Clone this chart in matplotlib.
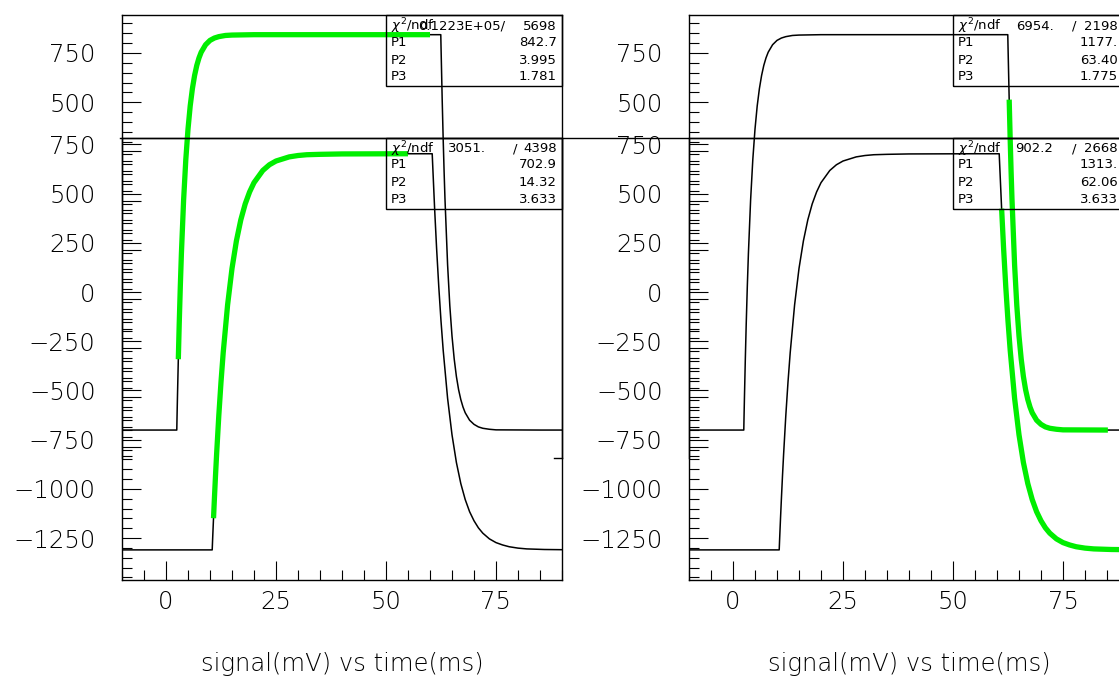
import numpy as np
import matplotlib
matplotlib.use("Agg")
from matplotlib import pyplot as plt
from matplotlib.patches import Rectangle
from matplotlib.lines import Line2D
from matplotlib.ticker import MultipleLocator, FuncFormatter

W, H = 1119, 678

# upper signal (upper pad scale)
t_up = [-10, 2.45, 2.5, 2.6, 2.8, 3.0, 3.25, 3.5, 4.0, 4.5, 5.0, 5.5, 6.0, 6.5, 7.0, 7.5,
        8.0, 9.0, 10.0, 11.0, 12.0, 13.5, 15.0, 20.0, 60.0, 62.45, 62.5, 62.77, 63.0, 63.2,
        63.4, 64.0, 64.5, 65.0, 65.5, 66.0, 66.5, 67.0, 67.5, 68.0, 69.0, 70.0, 71.0, 72.0,
        73.5, 75.0, 85.2, 90.0]
v_up = [-1166, -1166, -1108, -1002, -806, -630, -438, -270, 2, 208, 363, 481, 569, 636, 687, 725,
        754, 792, 814, 826, 833, 839, 841, 843, 843, 843, 788, 513, 308, 151,
        11, -327, -533, -688, -805, -894, -961, -1011, -1049, -1078, -1116, -1137, -1150, -1157,
        -1162, -1165, -1166, -1166]

# lower signal (lower pad scale)
t_lo = [-10, 10.5, 10.6, 10.8, 11.0, 11.25, 11.5, 12.0, 12.5, 13.0, 14.0, 15.0, 16.0, 17.0,
        18.0, 19.0, 20.0, 22.0, 23.5, 25.0, 28.0, 30.0, 32.0, 35.0, 40.0, 55.0, 60.5, 60.6,
        61.05, 61.5, 62.0, 62.5, 63.0, 64.0, 65.0, 66.0, 67.0, 68.0, 69.0, 70.0, 71.0, 72.0,
        73.5, 75.0, 76.5, 78.0, 80.0, 82.0, 86.0, 90.0]
v_lo = [-1310, -1310, -1254, -1149, -1050, -933, -825, -628, -457, -308, -65, 120, 260, 367,
        448, 509, 556, 618, 647, 666, 687, 694, 698, 700, 702, 703, 703, 652,
        424, 222, 25, -147, -296, -540, -725, -866, -973, -1054, -1116, -1162, -1198, -1225,
        -1254, -1273, -1285, -1294, -1301, -1305, -1308, -1309]

# fit windows (ms)
fit_left_up = (2.8, 60.0)
fit_left_lo = (10.8, 55.0)
fit_right_up = (62.77, 85.2)
fit_right_lo = (61.05, 90.0)

# stats boxes: chi2, ndf, P1, P2, P3
stats_left_up = ["0.1223E+05/", "5698", "842.7", "3.995", "1.781"]
stats_left_lo = ["3051.", "4398", "702.9", "14.32", "3.633"]
stats_right_up = ["6954.", "2198", "1177.", "63.40", "1.775"]
stats_right_lo = ["902.2", "2668", "1313.", "62.06", "3.633"]

plt.rcParams['font.family'] = 'DejaVu Sans'
fig = plt.figure(figsize=(W / 100, H / 100), dpi=100)


def px_axes(x0, y0, x1, y1):
    return fig.add_axes([x0 / W, 1 - y1 / H, (x1 - x0) / W, (y1 - y0) / H])


def fx(x):
    return x / W


def fy(y):
    return 1 - y / H


def style_ticks(ax):
    ax.tick_params(which='major', direction='in', length=14, width=0.8, labelsize=17.5)
    ax.tick_params(which='minor', direction='in', length=7, width=0.8)
    for lab in ax.get_xticklabels() + ax.get_yticklabels():
        lab.set_fontweight('light')


def green_part(t, v, win):
    t = np.asarray(t)
    v = np.asarray(v)
    m = (t >= win[0]) & (t <= win[1])
    return t[m], v[m]


def stats_box(x0, y0, vals, right, chi_x, slash_x):
    fig.add_artist(Rectangle((fx(x0), fy(y0 + 71)), (562 - 386) / W, 71 / H,
                             transform=fig.transFigure, fill=False, lw=1, color='k'))
    rows = [y0 + 11, y0 + 27, y0 + 45, y0 + 62]
    kw = dict(fontsize=9.5, va='center', color='k')
    fig.text(fx(x0 + 5), fy(rows[0]), r"$\chi^{2}$/ndf", ha='left', **kw)
    if slash_x is None:
        fig.text(fx(chi_x), fy(rows[0]), vals[0], ha='right', **kw)
    else:
        fig.text(fx(chi_x), fy(rows[0]), vals[0], ha='left', **kw)
        fig.text(fx(slash_x), fy(rows[0]), "/", ha='left', **kw)
    fig.text(fx(right), fy(rows[0]), vals[1], ha='right', **kw)
    for i, name in enumerate(["P1", "P2", "P3"]):
        fig.text(fx(x0 + 5), fy(rows[i + 1]), name, ha='left', **kw)
        fig.text(fx(right), fy(rows[i + 1]), vals[i + 2], ha='right', **kw)


panels = [(122, fit_left_up, fit_left_lo), (689, fit_right_up, fit_right_lo)]
for x0, win_up, win_lo in panels:
    x1 = x0 + 440
    # upper pad
    ax_up = px_axes(x0, 15, x1, 458)
    ax_up.set_xlim(-10, 90)
    ax_up.set_ylim(-1308, 943)
    ax_up.patch.set_alpha(0)
    ax_up.spines['bottom'].set_visible(False)
    ax_up.set_xticks([])
    ax_up.yaxis.set_major_locator(MultipleLocator(250))
    ax_up.yaxis.set_minor_locator(MultipleLocator(50))
    ax_up.yaxis.set_major_formatter(FuncFormatter(
        lambda v, p: f"{v:.0f}" if v in (500, 750) else ""))
    ax_up.tick_params(axis='y', pad=19)
    style_ticks(ax_up)
    ax_up.plot(t_up, v_up, color='k', lw=1.1)
    tg, vg = green_part(t_up, v_up, win_up)
    ax_up.plot(tg, vg, color='#00ee00', lw=3.8, solid_capstyle='butt')
    ax_up.plot([0.982, 1.0], [0, 0], transform=ax_up.transAxes, color='k', lw=1, clip_on=False)
    for s in ax_up.spines.values():
        s.set_linewidth(1)

    # lower pad
    ax_lo = px_axes(x0, 138, x1, 580)
    ax_lo.set_xlim(-10, 90)
    ax_lo.set_ylim(-1463, 783)
    ax_lo.patch.set_alpha(0)
    ax_lo.xaxis.set_major_locator(MultipleLocator(25))
    ax_lo.xaxis.set_minor_locator(MultipleLocator(5))
    ax_lo.yaxis.set_major_locator(MultipleLocator(250))
    ax_lo.yaxis.set_minor_locator(MultipleLocator(50))
    ax_lo.tick_params(axis='y', pad=19)
    ax_lo.tick_params(axis='x', pad=7)
    style_ticks(ax_lo)
    ax_lo.plot(t_lo, v_lo, color='k', lw=1.1)
    tg, vg = green_part(t_lo, v_lo, win_lo)
    ax_lo.plot(tg, vg, color='#00ee00', lw=3.8, solid_capstyle='butt')
    for s in ax_lo.spines.values():
        s.set_linewidth(1)

    fig.text(fx((x0 + x1) / 2), fy(664), "signal(mV) vs time(ms)", ha='center', va='center',
             fontsize=17.5, fontweight='light')

fig.add_artist(Line2D([fx(120), 1], [fy(138), fy(138)], transform=fig.transFigure,
                      color='k', lw=1))

stats_box(386, 15, stats_left_up, 557, 505, None)
stats_box(386, 138, stats_left_lo, 557, 448, 513)
stats_box(953, 15, stats_right_up, 1118, 1016, 1072)
stats_box(953, 138, stats_right_lo, 1118, 1015, 1072)

fig.savefig("out.png", dpi=100)
